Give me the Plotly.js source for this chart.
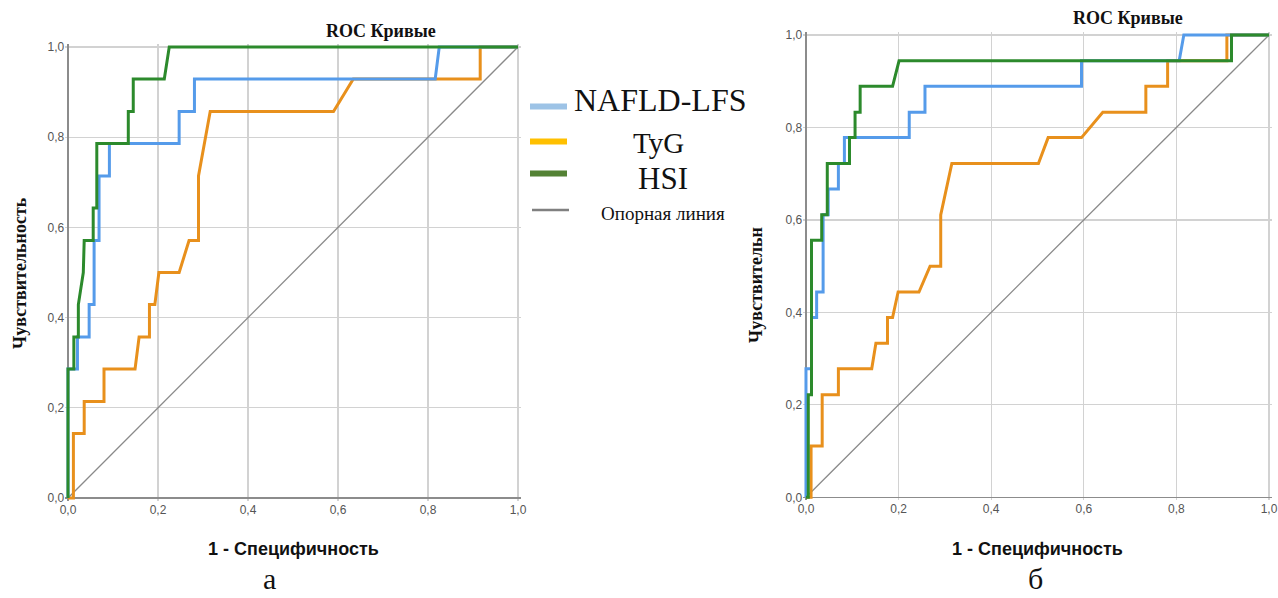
<!DOCTYPE html>
<html>
<head>
<meta charset="utf-8">
<script src="https://cdn.plot.ly/plotly-3.0.1.min.js"></script>
<style>html,body{margin:0;padding:0;background:#fff;}#chart{width:1278px;height:598px;}</style>
</head>
<body>
<div id="chart"></div>
<script>
// ---- Panel "а" (left) ----
const a_nafld_x = [0, 0, 0.021, 0.021, 0.047, 0.047, 0.058, 0.058, 0.069, 0.069, 0.092, 0.092, 0.247, 0.247, 0.281, 0.281, 0.816, 0.825, 1];
const a_nafld_y = [0, 0.286, 0.286, 0.357, 0.357, 0.429, 0.429, 0.571, 0.571, 0.714, 0.714, 0.786, 0.786, 0.857, 0.857, 0.929, 0.929, 1, 1];
const a_tyg_x = [0, 0.012, 0.012, 0.036, 0.036, 0.08, 0.08, 0.149, 0.158, 0.181, 0.181, 0.193, 0.202, 0.247, 0.269, 0.29, 0.29, 0.316, 0.59, 0.634, 0.916, 0.916, 1];
const a_tyg_y = [0, 0, 0.143, 0.143, 0.214, 0.214, 0.286, 0.286, 0.357, 0.357, 0.429, 0.429, 0.5, 0.5, 0.571, 0.571, 0.714, 0.857, 0.857, 0.929, 0.929, 1, 1];
const a_hsi_x = [0, 0, 0.013, 0.013, 0.023, 0.023, 0.034, 0.036, 0.056, 0.056, 0.064, 0.064, 0.134, 0.134, 0.145, 0.145, 0.214, 0.225, 1];
const a_hsi_y = [0, 0.286, 0.286, 0.357, 0.357, 0.429, 0.5, 0.571, 0.571, 0.643, 0.643, 0.786, 0.786, 0.857, 0.857, 0.929, 0.929, 1, 1];

// ---- Panel "б" (right) ----
const b_nafld_x = [0, 0, 0.012, 0.012, 0.023, 0.023, 0.037, 0.037, 0.048, 0.048, 0.07, 0.07, 0.083, 0.083, 0.223, 0.223, 0.257, 0.257, 0.595, 0.595, 0.806, 0.816, 1];
const b_nafld_y = [0, 0.278, 0.278, 0.389, 0.389, 0.444, 0.444, 0.611, 0.611, 0.667, 0.667, 0.722, 0.722, 0.778, 0.778, 0.833, 0.833, 0.889, 0.889, 0.944, 0.944, 1, 1];
const b_tyg_x = [0, 0.011, 0.011, 0.035, 0.035, 0.07, 0.07, 0.142, 0.151, 0.176, 0.176, 0.187, 0.199, 0.244, 0.268, 0.291, 0.291, 0.315, 0.502, 0.523, 0.595, 0.641, 0.734, 0.734, 0.781, 0.781, 0.909, 0.909, 1];
const b_tyg_y = [0, 0, 0.111, 0.111, 0.222, 0.222, 0.278, 0.278, 0.333, 0.333, 0.389, 0.389, 0.444, 0.444, 0.5, 0.5, 0.611, 0.722, 0.722, 0.778, 0.778, 0.833, 0.833, 0.889, 0.889, 0.944, 0.944, 1, 1];
const b_hsi_x = [0, 0.005, 0.005, 0.012, 0.012, 0.034, 0.034, 0.046, 0.046, 0.094, 0.094, 0.106, 0.106, 0.117, 0.117, 0.187, 0.201, 0.919, 0.919, 1];
const b_hsi_y = [0, 0, 0.222, 0.222, 0.556, 0.556, 0.611, 0.611, 0.722, 0.722, 0.778, 0.778, 0.833, 0.833, 0.889, 0.889, 0.944, 0.944, 1, 1];

const ref_x = [0, 1];
const ref_y = [0, 1];

const seriesNames = ["NAFLD-LFS", "TyG", "HSI", "Опорная линия"];
const chartTitle = "ROC Кривые";
const xTitle = "1 - Специфичность";
const yTitleA = "Чувствительность";
const yTitleB = "Чувствительн";
const panelLabels = ["а", "б"];

const C_BLUE = "#559BEA", C_ORANGE = "#E8901C", C_GREEN = "#2C8A2C", C_REF = "#8a8a8a";

function tr(x, y, color, w, xa, ya, name) {
  return {x: x, y: y, type: "scatter", mode: "lines", name: name, xaxis: xa, yaxis: ya,
          line: {color: color, width: w, shape: "linear"}, hoverinfo: "skip", showlegend: false};
}

const data = [
  tr(ref_x, ref_y, C_REF, 1.3, "x", "y", seriesNames[3]),
  tr(a_tyg_x, a_tyg_y, C_ORANGE, 3, "x", "y", seriesNames[1]),
  tr(a_nafld_x, a_nafld_y, C_BLUE, 3, "x", "y", seriesNames[0]),
  tr(a_hsi_x, a_hsi_y, C_GREEN, 3, "x", "y", seriesNames[2]),
  tr(ref_x, ref_y, C_REF, 1.3, "x2", "y2", seriesNames[3]),
  tr(b_tyg_x, b_tyg_y, C_ORANGE, 3, "x2", "y2", seriesNames[1]),
  tr(b_nafld_x, b_nafld_y, C_BLUE, 3, "x2", "y2", seriesNames[0]),
  tr(b_hsi_x, b_hsi_y, C_GREEN, 3, "x2", "y2", seriesNames[2])
];

const W = 1278, H = 598;
const px = v => v / W;
const py = v => 1 - v / H;

function axis(domain, anchor) {
  return {
    domain: domain, anchor: anchor, range: [-0.006, 1.006], tick0: 0, dtick: 0.2,
    tickformat: ".1f", showgrid: true, gridcolor: "#d2d2d2", gridwidth: 1.2,
    zeroline: true, zerolinecolor: "#8c8c8c", zerolinewidth: 1.5,
    showline: false, ticks: "", fixedrange: true,
    tickfont: {family: "Liberation Sans, Arial, sans-serif", size: 12, color: "#555"}
  };
}

const tf = (size, bold) => ({family: "Liberation Serif, Times New Roman, serif", size: size, color: "#111", weight: bold ? "bold" : "normal"});
const sf = (size) => ({family: "Liberation Sans, Arial, sans-serif", size: size, color: "#111", weight: "bold"});

function ann(text, x, y, font, opts) {
  return Object.assign({text: text, x: px(x), y: py(y), xref: "paper", yref: "paper", showarrow: false,
                        xanchor: "center", yanchor: "middle", font: font}, opts || {});
}

const annotations = [
  ann(chartTitle, 381, 31, tf(18, true)),
  ann(chartTitle, 1128, 18, tf(18, true)),
  ann(xTitle, 293, 549, sf(18)),
  ann(xTitle, 1037, 549, sf(18)),
  ann(yTitleA, 20, 273, tf(18, true), {textangle: -90}),
  ann(yTitleB, 756, 285, tf(18, true), {textangle: -90}),
  ann(panelLabels[0], 269, 578, tf(30, false)),
  ann(panelLabels[1], 1035, 578, tf(30, false)),
  ann(seriesNames[0], 572, 100, tf(32, false), {xanchor: "left"}),
  ann(seriesNames[1], 658, 143, tf(29, false)),
  ann(seriesNames[2], 663, 178, tf(31, false)),
  ann(seriesNames[3], 663, 213, tf(19, false))
];

function lg(y, color, w, x0, x1) {
  return {type: "line", xref: "paper", yref: "paper", x0: px(x0), x1: px(x1), y0: py(y), y1: py(y),
          line: {color: color, width: w}};
}
const shapes = [
  lg(106.5, "#9DC3E6", 6, 530, 567),
  lg(141.5, "#FFC000", 6, 530, 567),
  lg(173.5, "#548235", 6, 530, 567),
  lg(210, "#808080", 2.5, 532, 569)
];

const layout = {
  width: W, height: H, margin: {l: 0, r: 0, t: 0, b: 0},
  paper_bgcolor: "#ffffff", plot_bgcolor: "#ffffff",
  separators: ", ",
  showlegend: false,
  xaxis: axis([px(65.3), px(520.7)], "y"),
  yaxis: axis([1 - 500.7 / H, 1 - 44.3 / H], "x"),
  xaxis2: axis([px(803.2), px(1271.8)], "y2"),
  yaxis2: axis([1 - 500.1 / H, 1 - 32.2 / H], "x2"),
  annotations: annotations,
  shapes: shapes
};

Plotly.newPlot("chart", data, layout, {staticPlot: true, displayModeBar: false});
</script>
</body>
</html>
